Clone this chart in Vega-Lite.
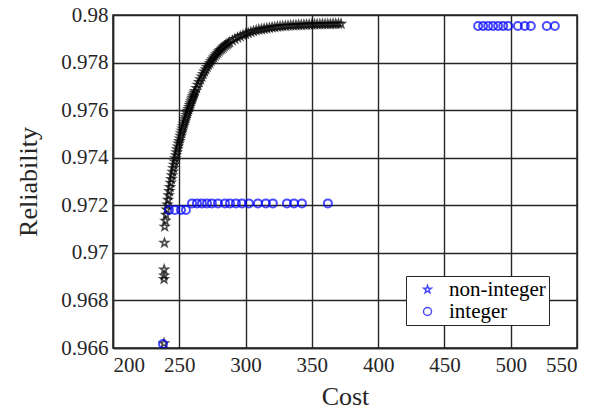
{
  "$schema": "https://vega.github.io/schema/vega-lite/v6.json",
  "width": 464,
  "height": 333,
  "autosize": "none",
  "padding": {"left": 113, "top": 15, "right": 33, "bottom": 63},
  "background": "white",
  "config": {
    "font": "Liberation Serif",
    "view": {"stroke": "#262626", "strokeWidth": 1.5},
    "axis": {
      "labelFont": "Liberation Serif",
      "labelFontSize": 21,
      "labelColor": "#262626",
      "titleFont": "Liberation Serif",
      "titleFontSize": 26,
      "titleFontWeight": "normal",
      "titleColor": "#262626",
      "gridColor": "#262626",
      "gridOpacity": 1,
      "gridWidth": 1.4,
      "domainColor": "#262626",
      "domainWidth": 1.5,
      "ticks": false
    },
    "legend": {
      "orient": "none",
      "legendX": 293,
      "legendY": 261,
      "fillColor": "white",
      "strokeColor": "#262626",
      "padding": 3,
      "rowPadding": 0,
      "labelFont": "Liberation Serif",
      "labelFontSize": 21,
      "labelColor": "#000000",
      "symbolSize": 64,
      "symbolStrokeWidth": 1.5,
      "symbolOffset": 8,
      "labelOffset": 11
    }
  },
  "datasets": {
    "stars": [
      {"cost": 238.5, "rel": 0.9662, "type": "non-integer"},
      {"cost": 238.5, "rel": 0.9689, "type": "non-integer"},
      {"cost": 238.6, "rel": 0.96905, "type": "non-integer"},
      {"cost": 238.6, "rel": 0.9693, "type": "non-integer"},
      {"cost": 238.8, "rel": 0.97042, "type": "non-integer"},
      {"cost": 239.0, "rel": 0.9711, "type": "non-integer"},
      {"cost": 239.5, "rel": 0.97135, "type": "non-integer"},
      {"cost": 240.0, "rel": 0.9716, "type": "non-integer"},
      {"cost": 240.5, "rel": 0.97182, "type": "non-integer"},
      {"cost": 241.0, "rel": 0.97203, "type": "non-integer"},
      {"cost": 241.5, "rel": 0.97223, "type": "non-integer"},
      {"cost": 242.0, "rel": 0.97242, "type": "non-integer"},
      {"cost": 242.5, "rel": 0.9726, "type": "non-integer"},
      {"cost": 243.0, "rel": 0.97277, "type": "non-integer"},
      {"cost": 243.5, "rel": 0.97294, "type": "non-integer"},
      {"cost": 244.0, "rel": 0.9731, "type": "non-integer"},
      {"cost": 244.5, "rel": 0.97326, "type": "non-integer"},
      {"cost": 245.0, "rel": 0.97341, "type": "non-integer"},
      {"cost": 245.5, "rel": 0.97356, "type": "non-integer"},
      {"cost": 246.0, "rel": 0.9737, "type": "non-integer"},
      {"cost": 246.5, "rel": 0.97384, "type": "non-integer"},
      {"cost": 247.0, "rel": 0.97397, "type": "non-integer"},
      {"cost": 247.5, "rel": 0.9741, "type": "non-integer"},
      {"cost": 248.0, "rel": 0.97423, "type": "non-integer"},
      {"cost": 248.5, "rel": 0.97435, "type": "non-integer"},
      {"cost": 249.0, "rel": 0.97447, "type": "non-integer"},
      {"cost": 249.5, "rel": 0.97459, "type": "non-integer"},
      {"cost": 250.0, "rel": 0.9747, "type": "non-integer"},
      {"cost": 250.5, "rel": 0.97481, "type": "non-integer"},
      {"cost": 251.0, "rel": 0.97492, "type": "non-integer"},
      {"cost": 251.5, "rel": 0.97503, "type": "non-integer"},
      {"cost": 252.0, "rel": 0.97513, "type": "non-integer"},
      {"cost": 252.5, "rel": 0.97523, "type": "non-integer"},
      {"cost": 253.0, "rel": 0.97533, "type": "non-integer"},
      {"cost": 253.5, "rel": 0.97543, "type": "non-integer"},
      {"cost": 254.0, "rel": 0.97552, "type": "non-integer"},
      {"cost": 254.5, "rel": 0.97561, "type": "non-integer"},
      {"cost": 255.0, "rel": 0.9757, "type": "non-integer"},
      {"cost": 255.5, "rel": 0.97579, "type": "non-integer"},
      {"cost": 256.0, "rel": 0.97588, "type": "non-integer"},
      {"cost": 256.5, "rel": 0.97597, "type": "non-integer"},
      {"cost": 257.0, "rel": 0.97605, "type": "non-integer"},
      {"cost": 257.5, "rel": 0.97613, "type": "non-integer"},
      {"cost": 258.0, "rel": 0.97621, "type": "non-integer"},
      {"cost": 258.5, "rel": 0.97629, "type": "non-integer"},
      {"cost": 259.0, "rel": 0.97637, "type": "non-integer"},
      {"cost": 259.5, "rel": 0.97645, "type": "non-integer"},
      {"cost": 260.0, "rel": 0.97652, "type": "non-integer"},
      {"cost": 260.5, "rel": 0.97659, "type": "non-integer"},
      {"cost": 261.0, "rel": 0.97666, "type": "non-integer"},
      {"cost": 261.5, "rel": 0.97673, "type": "non-integer"},
      {"cost": 262.0, "rel": 0.9768, "type": "non-integer"},
      {"cost": 263.0, "rel": 0.97693, "type": "non-integer"},
      {"cost": 264.0, "rel": 0.97706, "type": "non-integer"},
      {"cost": 265.0, "rel": 0.97718, "type": "non-integer"},
      {"cost": 266.0, "rel": 0.9773, "type": "non-integer"},
      {"cost": 267.0, "rel": 0.97741, "type": "non-integer"},
      {"cost": 268.0, "rel": 0.97752, "type": "non-integer"},
      {"cost": 269.0, "rel": 0.97762, "type": "non-integer"},
      {"cost": 270.0, "rel": 0.97772, "type": "non-integer"},
      {"cost": 271.0, "rel": 0.97781, "type": "non-integer"},
      {"cost": 272.0, "rel": 0.9779, "type": "non-integer"},
      {"cost": 273.0, "rel": 0.97798, "type": "non-integer"},
      {"cost": 274.0, "rel": 0.97806, "type": "non-integer"},
      {"cost": 275.0, "rel": 0.97814, "type": "non-integer"},
      {"cost": 276.0, "rel": 0.97821, "type": "non-integer"},
      {"cost": 277.0, "rel": 0.97828, "type": "non-integer"},
      {"cost": 278.0, "rel": 0.97835, "type": "non-integer"},
      {"cost": 279.0, "rel": 0.97841, "type": "non-integer"},
      {"cost": 280.0, "rel": 0.97847, "type": "non-integer"},
      {"cost": 281.0, "rel": 0.97853, "type": "non-integer"},
      {"cost": 282.0, "rel": 0.97858, "type": "non-integer"},
      {"cost": 283.0, "rel": 0.97863, "type": "non-integer"},
      {"cost": 284.0, "rel": 0.97868, "type": "non-integer"},
      {"cost": 285.0, "rel": 0.97873, "type": "non-integer"},
      {"cost": 286.0, "rel": 0.97877, "type": "non-integer"},
      {"cost": 287.0, "rel": 0.97881, "type": "non-integer"},
      {"cost": 288.0, "rel": 0.97885, "type": "non-integer"},
      {"cost": 290.0, "rel": 0.97892, "type": "non-integer"},
      {"cost": 292.0, "rel": 0.97899, "type": "non-integer"},
      {"cost": 294.0, "rel": 0.97905, "type": "non-integer"},
      {"cost": 296.0, "rel": 0.9791, "type": "non-integer"},
      {"cost": 298.0, "rel": 0.97915, "type": "non-integer"},
      {"cost": 300.0, "rel": 0.9792, "type": "non-integer"},
      {"cost": 302.0, "rel": 0.97924, "type": "non-integer"},
      {"cost": 304.0, "rel": 0.97928, "type": "non-integer"},
      {"cost": 306.0, "rel": 0.97932, "type": "non-integer"},
      {"cost": 308.0, "rel": 0.97935, "type": "non-integer"},
      {"cost": 310.0, "rel": 0.97938, "type": "non-integer"},
      {"cost": 312.0, "rel": 0.9794, "type": "non-integer"},
      {"cost": 314.0, "rel": 0.97942, "type": "non-integer"},
      {"cost": 316.0, "rel": 0.97944, "type": "non-integer"},
      {"cost": 318.0, "rel": 0.97946, "type": "non-integer"},
      {"cost": 320.0, "rel": 0.97948, "type": "non-integer"},
      {"cost": 322.0, "rel": 0.97949, "type": "non-integer"},
      {"cost": 324.0, "rel": 0.97951, "type": "non-integer"},
      {"cost": 326.0, "rel": 0.97952, "type": "non-integer"},
      {"cost": 328.0, "rel": 0.97953, "type": "non-integer"},
      {"cost": 330.0, "rel": 0.97954, "type": "non-integer"},
      {"cost": 332.0, "rel": 0.97955, "type": "non-integer"},
      {"cost": 334.0, "rel": 0.97956, "type": "non-integer"},
      {"cost": 336.0, "rel": 0.97956, "type": "non-integer"},
      {"cost": 338.0, "rel": 0.97957, "type": "non-integer"},
      {"cost": 340.0, "rel": 0.97958, "type": "non-integer"},
      {"cost": 342.0, "rel": 0.97958, "type": "non-integer"},
      {"cost": 344.0, "rel": 0.97959, "type": "non-integer"},
      {"cost": 346.0, "rel": 0.97959, "type": "non-integer"},
      {"cost": 348.0, "rel": 0.9796, "type": "non-integer"},
      {"cost": 350.0, "rel": 0.9796, "type": "non-integer"},
      {"cost": 352.0, "rel": 0.97961, "type": "non-integer"},
      {"cost": 354.0, "rel": 0.97961, "type": "non-integer"},
      {"cost": 356.0, "rel": 0.97961, "type": "non-integer"},
      {"cost": 358.0, "rel": 0.97962, "type": "non-integer"},
      {"cost": 360.0, "rel": 0.97962, "type": "non-integer"},
      {"cost": 362.0, "rel": 0.97962, "type": "non-integer"},
      {"cost": 364.0, "rel": 0.97962, "type": "non-integer"},
      {"cost": 366.0, "rel": 0.97963, "type": "non-integer"},
      {"cost": 368.0, "rel": 0.97963, "type": "non-integer"},
      {"cost": 370.0, "rel": 0.97963, "type": "non-integer"},
      {"cost": 372.0, "rel": 0.97963, "type": "non-integer"}
    ],
    "circles": [
      {"cost": 237.7, "rel": 0.96617, "type": "integer"},
      {"cost": 242.2, "rel": 0.9718, "type": "integer"},
      {"cost": 246.7, "rel": 0.9718, "type": "integer"},
      {"cost": 251.3, "rel": 0.9718, "type": "integer"},
      {"cost": 255.0, "rel": 0.9718, "type": "integer"},
      {"cost": 259.6, "rel": 0.97208, "type": "integer"},
      {"cost": 263.3, "rel": 0.97208, "type": "integer"},
      {"cost": 267.1, "rel": 0.97208, "type": "integer"},
      {"cost": 270.9, "rel": 0.97208, "type": "integer"},
      {"cost": 274.6, "rel": 0.97208, "type": "integer"},
      {"cost": 279.2, "rel": 0.97208, "type": "integer"},
      {"cost": 284.4, "rel": 0.97208, "type": "integer"},
      {"cost": 288.2, "rel": 0.97208, "type": "integer"},
      {"cost": 292.7, "rel": 0.97208, "type": "integer"},
      {"cost": 297.3, "rel": 0.97208, "type": "integer"},
      {"cost": 302.5, "rel": 0.97208, "type": "integer"},
      {"cost": 309.3, "rel": 0.97208, "type": "integer"},
      {"cost": 315.3, "rel": 0.97208, "type": "integer"},
      {"cost": 320.6, "rel": 0.97208, "type": "integer"},
      {"cost": 331.2, "rel": 0.97208, "type": "integer"},
      {"cost": 336.5, "rel": 0.97208, "type": "integer"},
      {"cost": 342.5, "rel": 0.97208, "type": "integer"},
      {"cost": 362.1, "rel": 0.97208, "type": "integer"},
      {"cost": 475.4, "rel": 0.97954, "type": "integer"},
      {"cost": 479.2, "rel": 0.97954, "type": "integer"},
      {"cost": 483.0, "rel": 0.97954, "type": "integer"},
      {"cost": 486.7, "rel": 0.97954, "type": "integer"},
      {"cost": 490.5, "rel": 0.97954, "type": "integer"},
      {"cost": 494.3, "rel": 0.97954, "type": "integer"},
      {"cost": 498.1, "rel": 0.97954, "type": "integer"},
      {"cost": 505.4, "rel": 0.97954, "type": "integer"},
      {"cost": 510.6, "rel": 0.97954, "type": "integer"},
      {"cost": 515.2, "rel": 0.97954, "type": "integer"},
      {"cost": 527.2, "rel": 0.97954, "type": "integer"},
      {"cost": 533.3, "rel": 0.97954, "type": "integer"}
    ]
  },
  "encoding": {
    "x": {
      "field": "cost", "type": "quantitative", "title": "Cost",
      "scale": {"domain": [200, 550], "nice": false, "zero": false},
      "axis": {"values": [200, 250, 300, 350, 400, 450, 500, 550], "labelPadding": 6, "titlePadding": 8, "grid": true}
    },
    "y": {
      "field": "rel", "type": "quantitative", "title": "Reliability",
      "scale": {"domain": [0.966, 0.98], "nice": false, "zero": false},
      "axis": {"values": [0.966, 0.968, 0.97, 0.972, 0.974, 0.976, 0.978, 0.98], "format": ".3~f", "labelPadding": 5, "titlePadding": 19, "grid": true}
    },
    "shape": {
      "field": "type", "type": "nominal",
      "scale": {"domain": ["non-integer", "integer"], "range": ["M0,-1L0.235,-0.324L0.951,-0.309L0.38,0.124L0.588,0.809L0,0.4L-0.588,0.809L-0.38,0.124L-0.951,-0.309L-0.235,-0.324Z", "circle"]},
      "legend": {"title": null, "symbolStrokeColor": "#0000ff", "symbolFillColor": "transparent", "symbolStrokeWidth": 1.5}
    }
  },
  "layer": [
    {
      "data": {"name": "stars"},
      "mark": {"type": "point", "filled": false, "size": 72, "stroke": "#000000", "strokeWidth": 1.6, "clip": true}
    },
    {
      "data": {"name": "circles"},
      "mark": {"type": "point", "filled": false, "size": 64, "stroke": "#0000ff", "strokeWidth": 2, "clip": true}
    }
  ]
}
